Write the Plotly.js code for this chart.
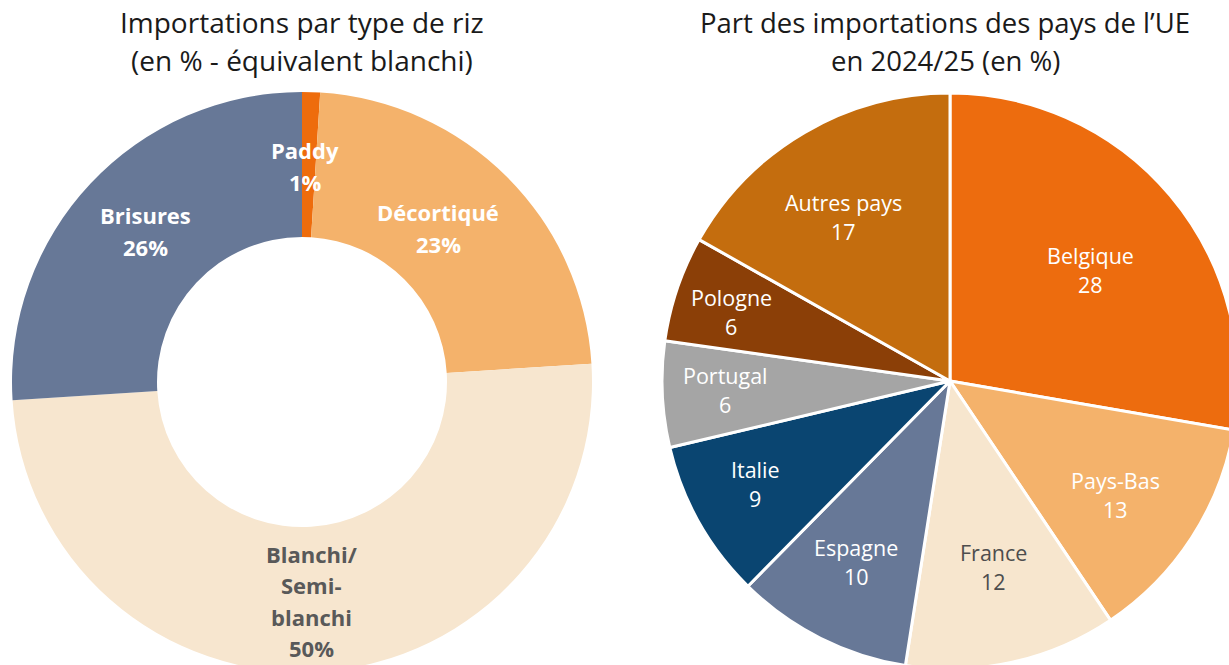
<!DOCTYPE html>
<html>
<head>
<meta charset="utf-8">
<script src="https://cdn.plot.ly/plotly-3.0.1.min.js"></script>
<style>
html,body{margin:0;padding:0;overflow:hidden;background:#fff;width:1229px;height:665px;}
#chart{width:1250px;height:700px;}
</style>
</head>
<body>
<div id="chart"></div>
<script>
// ---- Data ----
var riceTypes = ["Paddy", "Décortiqué", "Blanchi/ Semi- blanchi", "Brisures"];
var riceLabelLines = [["Paddy"], ["Décortiqué"], ["Blanchi/", "Semi-", "blanchi"], ["Brisures"]];
var riceShares = [1, 23, 50, 26];

var countries = ["Belgique", "Pays-Bas", "France", "Espagne", "Italie", "Portugal", "Pologne", "Autres pays"];
var countryShares = [28, 13, 12, 10, 9, 6, 6, 17];

var leftTitle = ["Importations par type de riz", "(en % - équivalent blanchi)"];
var rightTitle = ["Part des importations des pays de l’UE", "en 2024/25 (en %)"];

// ---- Styles ----
var W = 1250, H = 700;
var riceColors = ["#EE6C0C", "#F4B26B", "#F7E6CF", "#677897"];
var riceTextColors = ["#ffffff", "#ffffff", "#595959", "#ffffff"];
var riceLabelPos = [[305, 166], [438, 228], [311, 601], [145, 231]]; // label block centers (px)
var countryColors = ["#ED6C0E", "#F4B26B", "#F7E6CE", "#677897", "#0A4571", "#A5A5A5", "#8B3F07", "#C46D0E"];
var countryTextColors = ["#ffffff", "#ffffff", "#4d4d4d", "#ffffff", "#ffffff", "#ffffff", "#ffffff", "#ffffff"];
var countryLabelPos = [[1090, 270], [1115, 495], [993, 567], [856, 562], [755, 484], [725, 390], [731, 312], [843, 217]];

function px(x) { return x / W; }
function py(y) { return (H - y) / H; }

var traces = [
  {
    type: "pie",
    labels: riceTypes,
    values: riceShares,
    hole: 0.5,
    sort: false,
    direction: "clockwise",
    rotation: 0,
    textinfo: "none",
    hoverinfo: "label+percent",
    marker: { colors: riceColors, line: { width: 0 } },
    domain: { x: [px(302 - 290), px(302 + 290)], y: [py(382 + 290), py(382 - 290)] },
    showlegend: false
  },
  {
    type: "pie",
    labels: countries,
    values: countryShares,
    sort: false,
    direction: "clockwise",
    rotation: 0,
    textinfo: "none",
    hoverinfo: "label+value",
    marker: { colors: countryColors, line: { color: "#ffffff", width: 3 } },
    domain: { x: [px(950 - 288), px(950 + 288)], y: [py(381 + 288), py(381 - 288)] },
    showlegend: false
  }
];

var annotations = [];
function addText(text, x, y, size, color, bold, family) {
  annotations.push({
    xref: "paper", yref: "paper", x: px(x), y: py(y),
    xanchor: "center", yanchor: "middle", showarrow: false,
    text: bold ? "<b>" + text + "</b>" : text,
    font: { family: family, size: size, color: color }
  });
}

var mainFont = "'Open Sans', 'Noto Sans', sans-serif";
// titles
addText(leftTitle[0], 302, 22, 28, "#1a1a1a", false, mainFont);
addText(leftTitle[1], 302, 60, 28, "#1a1a1a", false, mainFont);
addText(rightTitle[0], 945, 22, 27.5, "#1a1a1a", false, mainFont);
addText(rightTitle[1], 945, 60, 27.5, "#1a1a1a", false, mainFont);

// left donut labels
var riceTotal = riceShares.reduce(function (a, b) { return a + b; }, 0);
riceTypes.forEach(function (t, i) {
  var lines = riceLabelLines[i].concat([Math.round(riceShares[i] / riceTotal * 100) + "%"]);
  var lh = 31.5;
  var y0 = riceLabelPos[i][1] - (lines.length - 1) * lh / 2;
  lines.forEach(function (ln, j) {
    addText(ln, riceLabelPos[i][0], y0 + j * lh, 22, riceTextColors[i], true, mainFont);
  });
});

// right pie labels
countries.forEach(function (c, i) {
  var lh = 29;
  addText(c, countryLabelPos[i][0], countryLabelPos[i][1] - lh / 2, 21.5, countryTextColors[i], false, mainFont);
  addText(String(countryShares[i]), countryLabelPos[i][0], countryLabelPos[i][1] + lh / 2, 21.5, countryTextColors[i], false, mainFont);
});

var layout = {
  width: W, height: H,
  margin: { l: 0, r: 0, t: 0, b: 0, pad: 0 },
  paper_bgcolor: "#ffffff",
  plot_bgcolor: "#ffffff",
  showlegend: false,
  annotations: annotations
};

Plotly.newPlot("chart", traces, layout, { displayModeBar: false, staticPlot: true });
</script>
</body>
</html>
